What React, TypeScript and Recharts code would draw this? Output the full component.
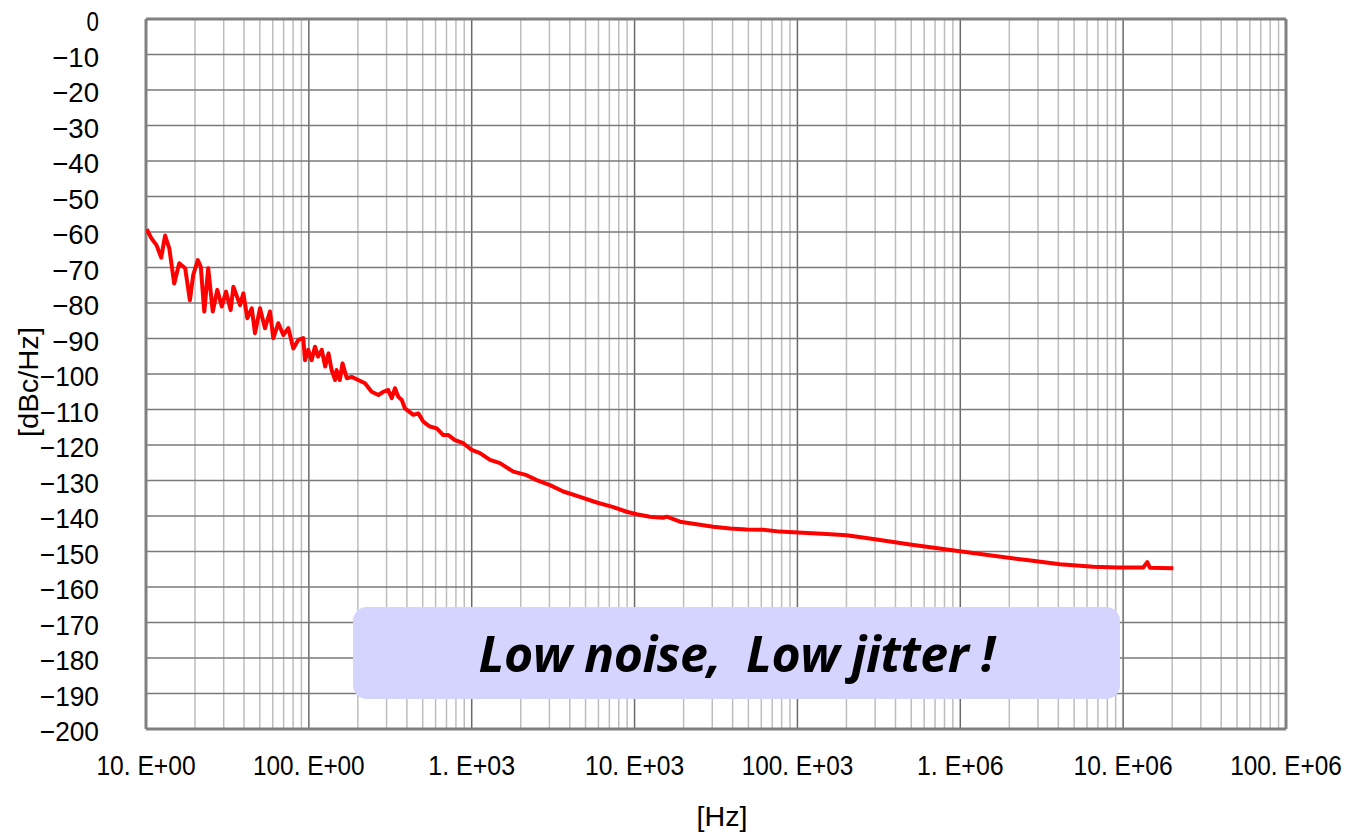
import { LineChart, Line, XAxis, YAxis, ReferenceLine } from 'recharts';

// ─── Data (phase noise trace) ────────────────────────────────────────────────
const FREQ_HZ = [
  10.1, 10.8, 11.6, 12.4, 13.1, 13.9, 14.9, 16.0, 17.4, 18.6,
  19.5, 20.8, 21.7, 22.8, 24.1, 25.7, 27.4, 29.2, 31.0, 33.1,
  34.4, 37.8, 39.6, 41.9, 44.6, 46.7, 50.1, 53.8, 57.7, 60.5,
  64.9, 69.7, 74.8, 80.3, 86.1, 92.4, 94.7, 99.2, 104, 109,
  114, 120, 126, 132, 138, 145, 148, 155, 161, 171,
  183, 201, 221, 243, 267, 287, 307, 323, 338, 354,
  372, 389, 438, 470, 504, 554, 610, 669, 718, 789,
  888, 1000, 1124, 1295, 1492, 1800, 2176, 2506, 3025, 3651,
  4623, 5855, 7402, 8946, 10300, 12440, 15010, 15750, 19010, 24070,
  30440, 38540, 48800, 61700, 78100, 94300, 151000, 200600, 306700, 491000,
  786000, 995000, 1.594e6, 2.557e6, 4.094e6, 6.556e6, 9.335e6, 1.329e7, 1.407e7, 1.462e7,
  2.033e7,
];

const NOISE_DBC = [
  -59.2, -61.8, -63.7, -67.2, -61.0, -64.6, -74.5, -68.8, -70.2, -79.2,
  -72.1, -67.9, -69.8, -82.4, -70.2, -82.4, -76.3, -81.0, -76.8, -82.0,
  -75.4, -80.6, -77.3, -84.3, -81.5, -88.5, -81.5, -87.1, -82.4, -89.9,
  -85.7, -89.0, -87.1, -92.8, -90.4, -89.9, -96.1, -93.2, -96.1, -92.3,
  -95.1, -93.2, -97.9, -94.2, -98.9, -101.7, -98.9, -101.7, -97.0, -101.2,
  -100.8, -101.7, -102.6, -105.0, -105.9, -105.0, -104.5, -106.8, -104.0, -106.4,
  -107.3, -109.7, -111.5, -111.1, -113.4, -114.8, -115.3, -117.2, -117.2, -118.6,
  -119.5, -121.4, -122.3, -124.2, -125.1, -127.5, -128.5, -129.9, -131.3, -133.1,
  -134.6, -136.2, -137.5, -138.8, -139.5, -140.2, -140.5, -140.2, -141.6, -142.3,
  -143.0, -143.5, -143.8, -143.9, -144.4, -144.6, -145.1, -145.4, -146.6, -148.0,
  -149.3, -149.9, -151.2, -152.4, -153.6, -154.3, -154.5, -154.5, -153.0, -154.6,
  -154.7,
];

const X_TICKS = [10, 100, 1e3, 1e4, 1e5, 1e6, 1e7, 1e8];
const X_TICK_LABELS = ['10. E+00', '100. E+00', '1. E+03', '10. E+03', '100. E+03', '1. E+06', '10. E+06', '100. E+06'];
const MINOR_STEPS = [2, 3, 4, 5, 6, 7, 8, 9];
const Y_TICKS = [0, -10, -20, -30, -40, -50, -60, -70, -80, -90, -100, -110, -120, -130, -140, -150, -160, -170, -180, -190, -200];

const chartData = FREQ_HZ.map((f, i) => ({ f, pn: NOISE_DBC[i] }));
const minorLines = X_TICKS.slice(0, -1).flatMap(d => MINOR_STEPS.map(m => d * m));

// reference uses a narrow half-width gothic; squeeze a regular sans to match
const FONT = '"Liberation Sans", Arial, sans-serif';
const CHAR_W = 12.4;
const MINUS_W = 22;
const FONT_SIZE = 28;

const COLORS = {
  frame: '#808080',
  major: '#6a6a6a',
  minor: '#bdbdbd',
  hgrid: '#7a7a7a',
  trace: '#ff0000',
  box: '#d4d4ff',
};

const squeeze = (s: string) =>
  [...s].reduce((w, c) => w + (c === '\u2212' ? MINUS_W : CHAR_W), 0);

function XTick({ x, y, payload }: any) {
  const i = X_TICKS.indexOf(payload.value);
  const label = X_TICK_LABELS[i] ?? '';
  return (
    <text
      x={x} y={y + 38} textAnchor="middle" fontFamily={FONT} fontSize={FONT_SIZE} fill="#000"
      textLength={squeeze(label)} lengthAdjust="spacingAndGlyphs"
    >
      {label}
    </text>
  );
}

function YTick({ x, y, payload }: any) {
  const v = payload.value as number;
  const label = v === 0 ? '0' : '\u2212' + Math.abs(v);
  return (
    <text
      x={x - 39} y={y + 12} textAnchor="end" fontFamily={FONT} fontSize={FONT_SIZE} fill="#000"
      textLength={squeeze(label)} lengthAdjust="spacingAndGlyphs"
    >
      {label}
    </text>
  );
}

export default function App() {
  return (
    <div style={{ position: 'absolute', left: 0, top: 0, width: 1350, height: 833, background: '#fff' }}>
      <LineChart width={1350} height={833} data={chartData} margin={{ top: 19, right: 64, bottom: 44, left: 46 }}>
        <XAxis
          dataKey="f"
          type="number"
          scale="log"
          domain={[10, 1e8]}
          ticks={X_TICKS}
          allowDataOverflow
          height={60}
          axisLine={false}
          tickLine={false}
          tick={<XTick />}
          interval={0}
        />
        <YAxis
          type="number"
          domain={[-200, 0]}
          ticks={Y_TICKS}
          width={100}
          axisLine={false}
          tickLine={false}
          tick={<YTick />}
          interval={0}
        />

        {/* minor decade grid */}
        {minorLines.map(v => (
          <ReferenceLine key={'m' + v} x={v} stroke={COLORS.minor} strokeWidth={1.5} />
        ))}
        {/* major decade grid */}
        {X_TICKS.map(v => (
          <ReferenceLine key={'M' + v} x={v} stroke={COLORS.major} strokeWidth={1.5} />
        ))}
        {/* horizontal grid */}
        {Y_TICKS.map(v => (
          <ReferenceLine key={'h' + v} y={v} stroke={COLORS.hgrid} strokeWidth={1.5} />
        ))}

        {/* frame */}
        <ReferenceLine x={10} stroke={COLORS.frame} strokeWidth={3} />
        <ReferenceLine x={1e8} stroke={COLORS.frame} strokeWidth={3} />
        <ReferenceLine y={0} stroke={COLORS.frame} strokeWidth={3} />
        <ReferenceLine y={-200} stroke={COLORS.frame} strokeWidth={3} />

        <Line
          type="linear"
          dataKey="pn"
          stroke={COLORS.trace}
          strokeWidth={4}
          strokeLinejoin="round"
          dot={false}
          isAnimationActive={false}
        />
      </LineChart>

      {/* axis titles */}
      <svg width={1350} height={833} style={{ position: 'absolute', left: 0, top: 0, pointerEvents: 'none' }}>
        <text
          x={0} y={0} transform="translate(38, 382) rotate(-90)" textAnchor="middle"
          fontFamily={FONT} fontSize={FONT_SIZE} fill="#000"
          textLength={110} lengthAdjust="spacingAndGlyphs"
        >
          [dBc/Hz]
        </text>
        <text
          x={722} y={826} textAnchor="middle" fontFamily={FONT} fontSize={FONT_SIZE} fill="#000"
          textLength={51} lengthAdjust="spacingAndGlyphs"
        >
          [Hz]
        </text>
      </svg>

      {/* callout */}
      <div
        style={{
          position: 'absolute', left: 353, top: 607, width: 767, height: 92,
          background: COLORS.box, borderRadius: 14,
          display: 'flex', alignItems: 'center', justifyContent: 'center',
          fontFamily: '"Open Sans", "Noto Sans", sans-serif', fontWeight: 700, fontStyle: 'italic',
          fontSize: 50, color: '#000', whiteSpace: 'pre', letterSpacing: -0.5,
        }}
      >
        {'Low noise,  Low jitter !'}
      </div>
    </div>
  );
}
